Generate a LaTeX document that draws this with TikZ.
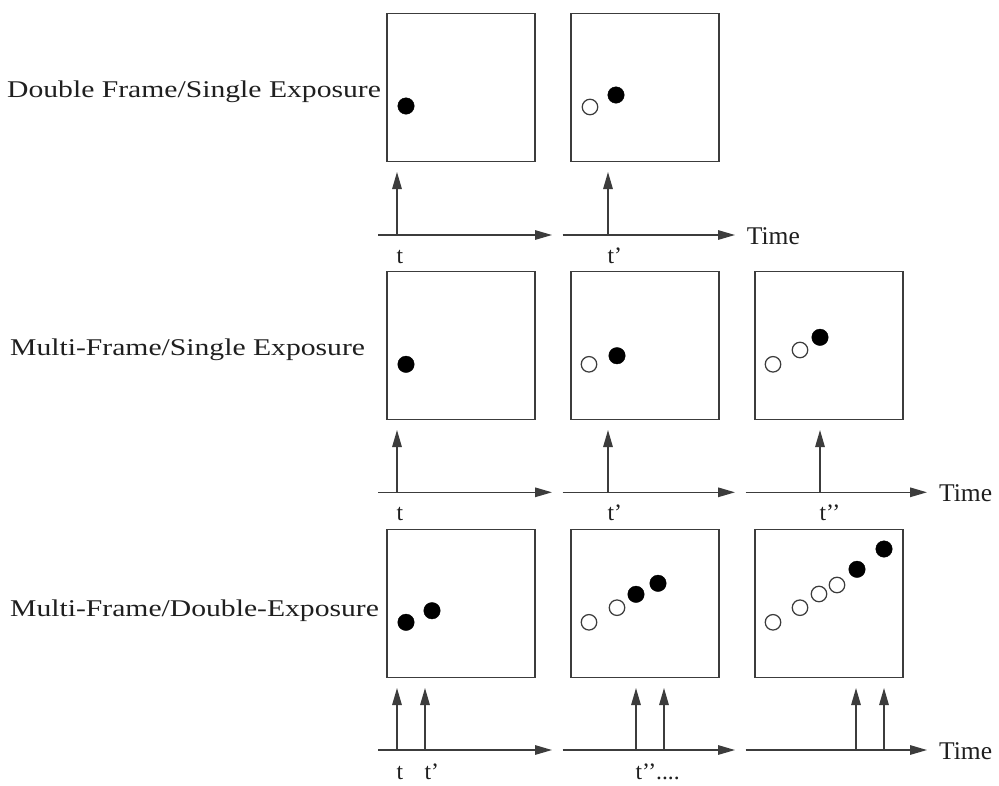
\documentclass[tikz,border=0pt]{standalone}
\usepackage{fontspec}
\usepackage{graphicx}
\setmainfont{Liberation Serif}
\usetikzlibrary{arrows.meta}
\definecolor{ink}{HTML}{3C3C3C}
\begin{document}
\begin{tikzpicture}[x=1pt,y=-1pt,
  frame/.style={draw=ink, line width=1.4pt, minimum width=148pt, minimum height=148pt, inner sep=0pt},
  hit/.style={circle, draw=black, fill=black, minimum size=16.5pt, inner sep=0pt},
  ghost/.style={circle, draw=ink, fill=white, line width=1.25pt, minimum size=15.5pt, inner sep=0pt},
  axisline/.style={draw=ink, line width=1.4pt, -{Triangle[length=17pt,width=9.5pt]}},
  pulse/.style={draw=ink, line width=1.4pt, -{Triangle[length=17pt,width=9.5pt]}},
  rowlabel/.style={anchor=base west, inner sep=0pt, text=black!88, font=\fontsize{24}{28}\selectfont},
  timelabel/.style={anchor=base west, inner sep=0pt, text=black!88, font=\fontsize{25.5}{30}\selectfont},
  ticklabel/.style={anchor=base west, inner sep=0pt, text=black!88, font=\fontsize{23.5}{28}\selectfont}]

\useasboundingbox[fill=white] (0,0) rectangle (999,785);

% ---------- row 1: double frame / single exposure ----------
\node[rowlabel] (lab1) at (7,97.3) {\scalebox{1.235}[1]{Double Frame/Single Exposure}};
\node[frame] (f11) at (461,87.5) {};
\node[frame] (f12) at (645,87.5) {};
\node[hit]   (d111) at (406,106) {};
\node[ghost] (d121) at (590,107) {};
\node[hit]   (d122) at (616,95) {};

\coordinate (a11s) at (378,235);   \coordinate (a11e) at (552,235);
\coordinate (a12s) at (562.5,235); \coordinate (a12e) at (735,235);
\draw[axisline] (a11s) -- (a11e);
\draw[axisline] (a12s) -- (a12e);
\coordinate (p111b) at (397,235); \coordinate (p111t) at (397,172);
\coordinate (p121b) at (608,235); \coordinate (p121t) at (608,172);
\draw[pulse] (p111b) -- (p111t);
\draw[pulse] (p121b) -- (p121t);
\node[timelabel] (time1) at (746.7,244) {Time};
\node[ticklabel] (t11) at (396.5,263) {t};
\node[ticklabel] (t12) at (607.5,263) {t’};

% ---------- row 2: multi-frame / single exposure ----------
\node[rowlabel] (lab2) at (10,355) {\scalebox{1.235}[1]{Multi-Frame/Single Exposure}};
\node[frame] (f21) at (461,345.5) {};
\node[frame] (f22) at (645,345.5) {};
\node[frame] (f23) at (829,345.5) {};
\node[hit]   (d211) at (406,364.3) {};
\node[ghost] (d221) at (589,364.3) {};
\node[hit]   (d222) at (617,355.7) {};
\node[ghost] (d231) at (773,364.3) {};
\node[ghost] (d232) at (800,350) {};
\node[hit]   (d233) at (820,337.3) {};

\coordinate (a21s) at (378,492.3);   \coordinate (a21e) at (552,492.3);
\coordinate (a22s) at (562.5,492.3); \coordinate (a22e) at (735,492.3);
\coordinate (a23s) at (745.5,492.3); \coordinate (a23e) at (927,492.3);
\draw[axisline] (a21s) -- (a21e);
\draw[axisline] (a22s) -- (a22e);
\draw[axisline] (a23s) -- (a23e);
\coordinate (p211b) at (397,492.3); \coordinate (p211t) at (397,430);
\coordinate (p221b) at (608,492.3); \coordinate (p221t) at (608,430);
\coordinate (p231b) at (820,492.3); \coordinate (p231t) at (820,430);
\draw[pulse] (p211b) -- (p211t);
\draw[pulse] (p221b) -- (p221t);
\draw[pulse] (p231b) -- (p231t);
\node[timelabel] (time2) at (939,501.3) {Time};
\node[ticklabel] (t21) at (396.5,520) {t};
\node[ticklabel] (t22) at (607.5,520) {t’};
\node[ticklabel] (t23) at (819.5,520) {t’’};

% ---------- row 3: multi-frame / double exposure ----------
\node[rowlabel] (lab3) at (10,616.7) {\scalebox{1.235}[1]{Multi-Frame/Double-Exposure}};
\node[frame] (f31) at (461,603.7) {};
\node[frame] (f32) at (645,603.7) {};
\node[frame] (f33) at (829,603.7) {};
\node[hit]   (d311) at (406,622.3) {};
\node[hit]   (d312) at (432,610.7) {};
\node[ghost] (d321) at (589,622.3) {};
\node[ghost] (d322) at (617,607.7) {};
\node[hit]   (d323) at (636,594.3) {};
\node[hit]   (d324) at (658,583.3) {};
\node[ghost] (d331) at (773,622.3) {};
\node[ghost] (d332) at (800,607.7) {};
\node[ghost] (d333) at (819,594) {};
\node[ghost] (d334) at (837,585) {};
\node[hit]   (d335) at (857,569.3) {};
\node[hit]   (d336) at (884,549) {};

\coordinate (a31s) at (378,750);   \coordinate (a31e) at (552,750);
\coordinate (a32s) at (562.5,750); \coordinate (a32e) at (735,750);
\coordinate (a33s) at (745.5,750); \coordinate (a33e) at (927,750);
\draw[axisline] (a31s) -- (a31e);
\draw[axisline] (a32s) -- (a32e);
\draw[axisline] (a33s) -- (a33e);
\coordinate (p311b) at (397,750); \coordinate (p311t) at (397,688);
\coordinate (p312b) at (425,750); \coordinate (p312t) at (425,688);
\coordinate (p321b) at (636,750); \coordinate (p321t) at (636,688);
\coordinate (p322b) at (664,750); \coordinate (p322t) at (664,688);
\coordinate (p331b) at (856,750); \coordinate (p331t) at (856,688);
\coordinate (p332b) at (884,750); \coordinate (p332t) at (884,688);
\draw[pulse] (p311b) -- (p311t);
\draw[pulse] (p312b) -- (p312t);
\draw[pulse] (p321b) -- (p321t);
\draw[pulse] (p322b) -- (p322t);
\draw[pulse] (p331b) -- (p331t);
\draw[pulse] (p332b) -- (p332t);
\node[timelabel] (time3) at (939,759) {Time};
\node[ticklabel] (t31) at (396.5,779) {t};
\node[ticklabel] (t32) at (424.5,779) {t’};
\node[ticklabel] (t33) at (635.5,779) {t’’....};

\end{tikzpicture}
\end{document}
